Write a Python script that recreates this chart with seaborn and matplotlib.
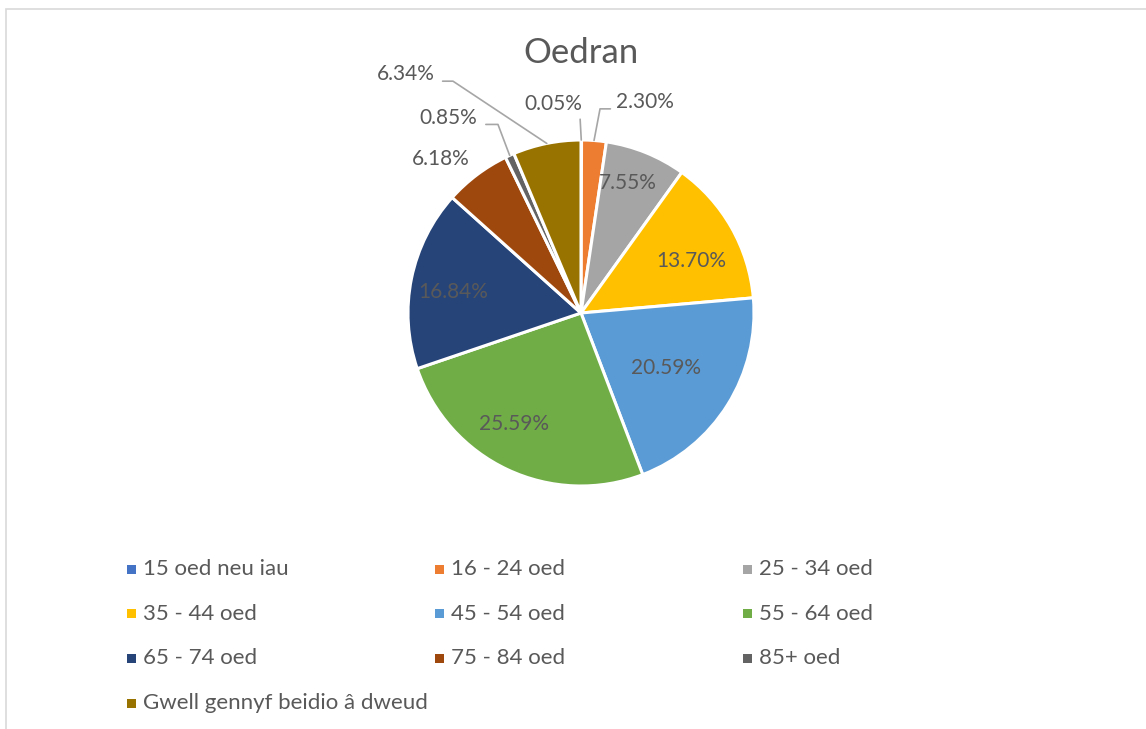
import numpy as np
import seaborn as sns
import matplotlib.pyplot as plt
from matplotlib.patches import Rectangle

sns.set_theme(style="white")
plt.rcParams['font.family'] = ['Lato', 'DejaVu Sans']

# data
categories = ['15 oed neu iau', '16 - 24 oed', '25 - 34 oed', '35 - 44 oed', '45 - 54 oed',
              '55 - 64 oed', '65 - 74 oed', '75 - 84 oed', '85+ oed', 'Gwell gennyf beidio â dweud']
shares = [0.05, 2.30, 7.55, 13.70, 20.59, 25.59, 16.84, 6.18, 0.85, 6.34]
colors = ['#4472C4', '#ED7D31', '#A5A5A5', '#FFC000', '#5B9BD5',
          '#70AD47', '#264478', '#9E480E', '#636363', '#997300']

# label positions (data units, pie radius = 1)
label_pos = [(-0.16, 1.21), (0.37, 1.22), (0.27, 0.75), (0.64, 0.30), (0.49, -0.32),
             (-0.39, -0.64), (-0.74, 0.12), (-0.81, 0.89), (-0.77, 1.13), (-1.01, 1.38)]
# leader line elbows for outside labels
elbows = {0: [(-0.005, 1.12)], 1: [(0.11, 1.18), (0.17, 1.18)],
          8: [(-0.48, 1.09), (-0.55, 1.09)], 9: [(-0.74, 1.34), (-0.80, 1.34)]}

text_col = '#595959'
W, H = 1146, 729
cx, cy, R = 581, 313, 173

fig = plt.figure(figsize=(W / 100, H / 100), dpi=100)
fig.patches.append(Rectangle((6 / W, -0.1), 1.2, (H - 9.5) / H + 0.1, transform=fig.transFigure,
                             fill=False, edgecolor='#D9D9D9', linewidth=1.2))

ax = fig.add_axes([(cx - R) / W, (H - cy - R) / H, 2 * R / W, 2 * R / H])
wedges, _ = ax.pie(shares, colors=colors, startangle=90, counterclock=False, radius=1,
                   wedgeprops=dict(edgecolor='white', linewidth=2.2))
ax.set_xlim(-1, 1)
ax.set_ylim(-1, 1)
ax.set_aspect('auto')
ax.axis('off')

cum = np.cumsum([0] + shares)
total = cum[-1]
for i, v in enumerate(shares):
    x, y = label_pos[i]
    ax.text(x, y, f'{v:.2f}%', ha='center', va='center', fontsize=15, color=text_col, clip_on=False)
    if i in elbows:
        mid = (cum[i] + cum[i + 1]) / 2 / total * 2 * np.pi
        sx, sy = np.sin(mid), np.cos(mid)
        pts = [(sx, sy)] + elbows[i]
        ax.plot([p[0] for p in pts], [p[1] for p in pts], color='#A6A6A6', lw=1.2, clip_on=False)

fig.text(cx / W, 1 - 53 / H, 'Oedran', ha='center', va='center', fontsize=25, color=text_col)

# legend, row by row in three equal columns
leg_x0, leg_y0, col_w, row_h = 131, 569, 308, 44.7
for i, (lab, c) in enumerate(zip(categories, colors)):
    r, k = divmod(i, 3)
    px = leg_x0 + k * col_w
    py = leg_y0 + r * row_h
    fig.add_artist(Rectangle(((px - 4.5) / W, 1 - (py + 4.5) / H), 9 / W, 9 / H,
                             transform=fig.transFigure, facecolor=c, edgecolor='none'))
    fig.text((px + 12) / W, 1 - py / H, lab, ha='left', va='center', fontsize=16, color=text_col)

fig.savefig('out.png', dpi=100)
